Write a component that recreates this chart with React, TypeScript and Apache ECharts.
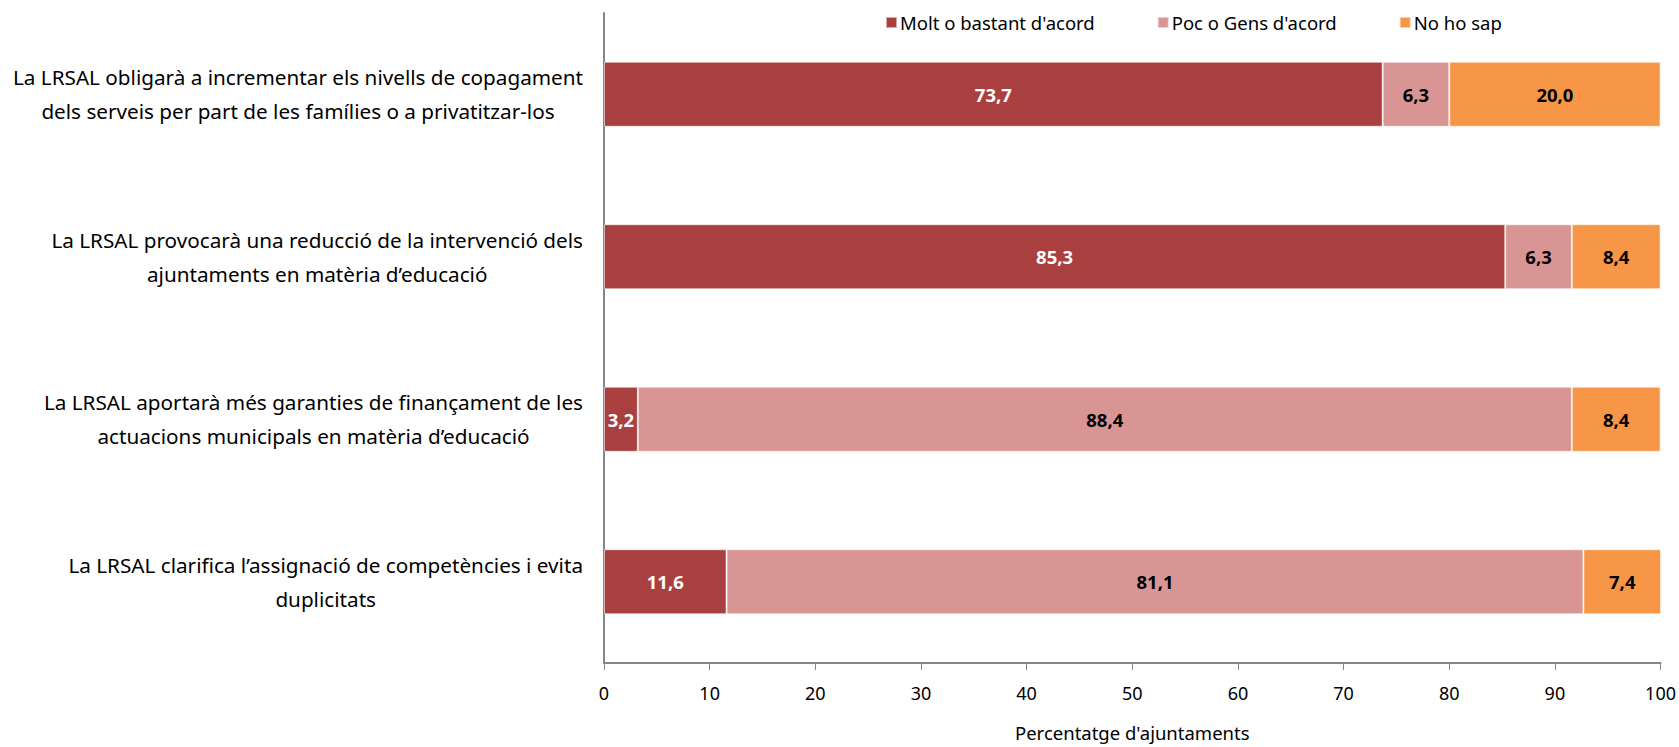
import React, { useEffect, useRef } from "react";
import * as echarts from "echarts";

const categories: string[] = [
  "La LRSAL obligarà a incrementar els nivells de copagament\ndels serveis per part de les famílies o a privatitzar-los",
  "La LRSAL provocarà una reducció de la intervenció dels\najuntaments en matèria d’educació",
  "La LRSAL aportarà més garanties de finançament de les\nactuacions municipals en matèria d’educació",
  "La LRSAL clarifica l’assignació de competències i evita\nduplicitats",
];

const seriesNames: string[] = ["Molt o bastant d'acord", "Poc o Gens d'acord", "No ho sap"];
const moltValues: number[] = [73.7, 85.3, 3.2, 11.6];
const pocValues: number[] = [6.3, 6.3, 88.4, 81.1];
const noSapValues: number[] = [20.0, 8.4, 8.4, 7.4];
const xTicks = { min: 0, max: 100, interval: 10 };
const axisTitle = "Percentatge d'ajuntaments";

const colors = ["#A9403F", "#D99594", "#F79646"];
const labelColors = ["#ffffff", "#000000", "#000000"];
const FONT = "'Noto Sans', 'Open Sans', sans-serif";

export default function App() {
  const ref = useRef<HTMLDivElement>(null);
  useEffect(() => {
    if (!ref.current) return;
    const chart = echarts.init(ref.current, undefined, { renderer: "svg" });
    const values = [moltValues, pocValues, noSapValues];
    chart.setOption({
      animation: false,
      backgroundColor: "#ffffff",
      textStyle: { fontFamily: FONT },
      legend: {
        left: 880,
        top: 8,
        itemWidth: 11,
        itemHeight: 11,
        itemGap: 62,
        icon: "rect",
        textStyle: { fontFamily: FONT, fontSize: 18.5, color: "#000", padding: [0, 0, 0, -2] },
        data: seriesNames,
      },
      grid: { left: 604, right: 18, top: 13, bottom: 71, containLabel: false },
      xAxis: {
        type: "value",
        min: xTicks.min,
        max: xTicks.max,
        interval: xTicks.interval,
        name: axisTitle,
        nameLocation: "middle",
        nameGap: 60,
        nameTextStyle: { fontFamily: FONT, fontSize: 18.5, color: "#000" },
        axisLine: { show: true, lineStyle: { color: "#868686", width: 2 } },
        axisTick: { show: true, length: 7, lineStyle: { color: "#868686", width: 1 } },
        axisLabel: { fontFamily: FONT, fontSize: 18, color: "#000", margin: 21 },
        splitLine: { show: false },
      },
      yAxis: {
        type: "category",
        inverse: true,
        data: categories,
        axisLine: { show: true, lineStyle: { color: "#868686", width: 2 } },
        axisTick: { show: false },
        axisLabel: {
          margin: 21,
          align: "right",
          fontFamily: FONT,
          fontSize: 20.7,
          lineHeight: 34,
          color: "#000",
          formatter: (v: string) =>
            v
              .split("\n")
              .map((l) => `{c|${l}}`)
              .join("\n"),
          rich: {
            c: { align: "center", fontFamily: FONT, fontSize: 20.7, lineHeight: 34, color: "#000" },
          },
        },
      },
      series: seriesNames.map((name, i) => ({
        name,
        type: "bar",
        stack: "total",
        barWidth: "40%",
        data: values[i],
        itemStyle: { color: colors[i], borderColor: "rgba(255,255,255,0.55)", borderWidth: 1 },
        label: {
          show: true,
          position: "inside",
          color: labelColors[i],
          fontFamily: FONT,
          fontWeight: "bold",
          fontSize: 18.5,
          formatter: (p: any) => Number(p.value).toFixed(1).replace(".", ","),
        },
      })),
    });
    return () => chart.dispose();
  }, []);
  return (
    <div
      ref={ref}
      style={{ position: "fixed", left: 0, top: 0, width: 1679, height: 747 }}
    />
  );
}
